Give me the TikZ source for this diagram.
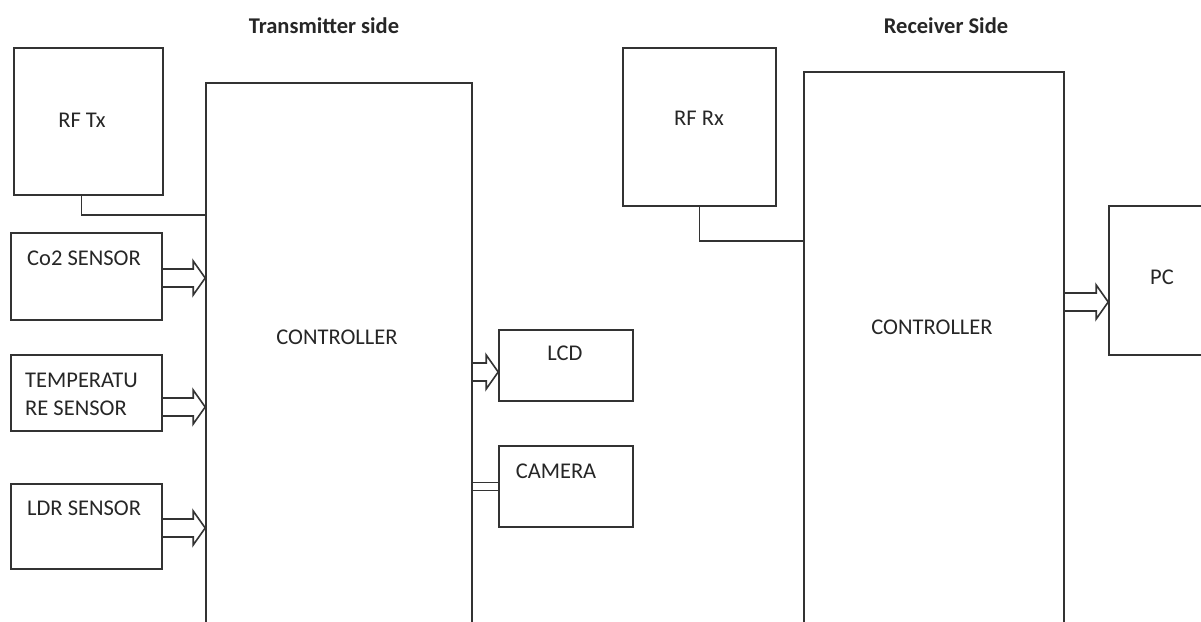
\documentclass[tikz,border=0pt]{standalone}
\usepackage{fontspec}
\setmainfont{Carlito}
\usetikzlibrary{calc,positioning}
\definecolor{LineInk}{HTML}{333333}
\definecolor{TextInk}{HTML}{262626}
% hollow block arrow from a point to the west side of a node
\newcommand{\fatarrow}[2]{%
  \path (#1) coordinate (fa-s) (fa-s -| #2.west) coordinate (fa-e);
  \draw[wl] ($(fa-s)+(0,-9)$) -- ($(fa-e)+(-12,-9)$) -- ($(fa-e)+(-12,-17)$) -- (fa-e)
    -- ($(fa-e)+(-12,17)$) -- ($(fa-e)+(-12,9)$) -- ($(fa-s)+(0,9)$);}

\begin{document}
\begin{tikzpicture}[x=1pt, y=-1pt,
  blk/.style={draw=LineInk, line width=1.6pt, rectangle, inner sep=0pt, minimum width=#1},
  wl/.style={draw=LineInk, line width=1.6pt},
  lbl/.style={text=TextInk, inner sep=0pt, font=\fontsize{22.5}{28}\selectfont},
  ttl/.style={lbl, font=\fontsize{22.5}{28}\selectfont\bfseries},
]
\useasboundingbox (0,0) rectangle (1201,621);
\clip (0,0) rectangle (1201,621);
% transmitter side
\node[ttl] (txtitle) at (324,26) {Transmitter side};
\node[blk=149, minimum height=147] (rftx) at (88.5,121.5) {};
\node[blk=151, minimum height=87] (co2) at (86.5,276.5) {};
\node[blk=151, minimum height=76] (temp) at (86.5,393) {};
\node[blk=151, minimum height=85] (ldr) at (86.5,526.5) {};
\node[blk=266, minimum height=617] (ctl) at (339,391.5) {};
\node[blk=134, minimum height=71] (lcd) at (566,365.5) {};
\node[blk=134, minimum height=81] (cam) at (566,486.5) {};
\node[lbl] (rftxlbl) at (82,120) {RF Tx};
\node[lbl, anchor=west] (co2lbl) at (27,258) {Co2 SENSOR};
\node[lbl, anchor=west, align=left] (templbl) at (25,394) {TEMPERATU\\RE SENSOR};
\node[lbl, anchor=west] (ldrlbl) at (27,508) {LDR SENSOR};
\node[lbl] (ctllbl) at (337,337) {CONTROLLER};
\node[lbl] (lcdlbl) at (565,353) {LCD};
\node[lbl] (camlbl) at (556,471) {CAMERA};
\draw[wl] ($(rftx.south)+(-7,0)$) |- ($(ctl.north west)+(0,133)$);
\fatarrow{$(co2.east)+(0,1.5)$}{ctl}
\fatarrow{$(temp.east)+(0,14)$}{ctl}
\fatarrow{$(ldr.east)+(0,1.5)$}{ctl}
\fatarrow{$(lcd.west -| ctl.east)+(0,6.5)$}{lcd}
\foreach \d in {-4,4}
  \draw[wl] ($(cam.west)+(0,\d)$) -- ($(cam.west -| ctl.east)+(0,\d)$);
% receiver side
\node[ttl] (rxtitle) at (946,26) {Receiver Side};
\node[blk=153, minimum height=158] (rfrx) at (699.5,127) {};
\node[blk=260, minimum height=628] (rxctl) at (934,386) {};
\node[blk=151, minimum height=149] (pc) at (1184.5,280.5) {};
\node[lbl] (rfrxlbl) at (699,118) {RF Rx};
\node[lbl] (rxctllbl) at (932,327) {CONTROLLER};
\node[lbl] (pclbl) at (1162,277) {PC};
\draw[wl] (rfrx.south) |- ($(rxctl.north west)+(0,170)$);
\fatarrow{$(rxctl.east |- pc.west)+(0,21.5)$}{pc}
\end{tikzpicture}
\end{document}
